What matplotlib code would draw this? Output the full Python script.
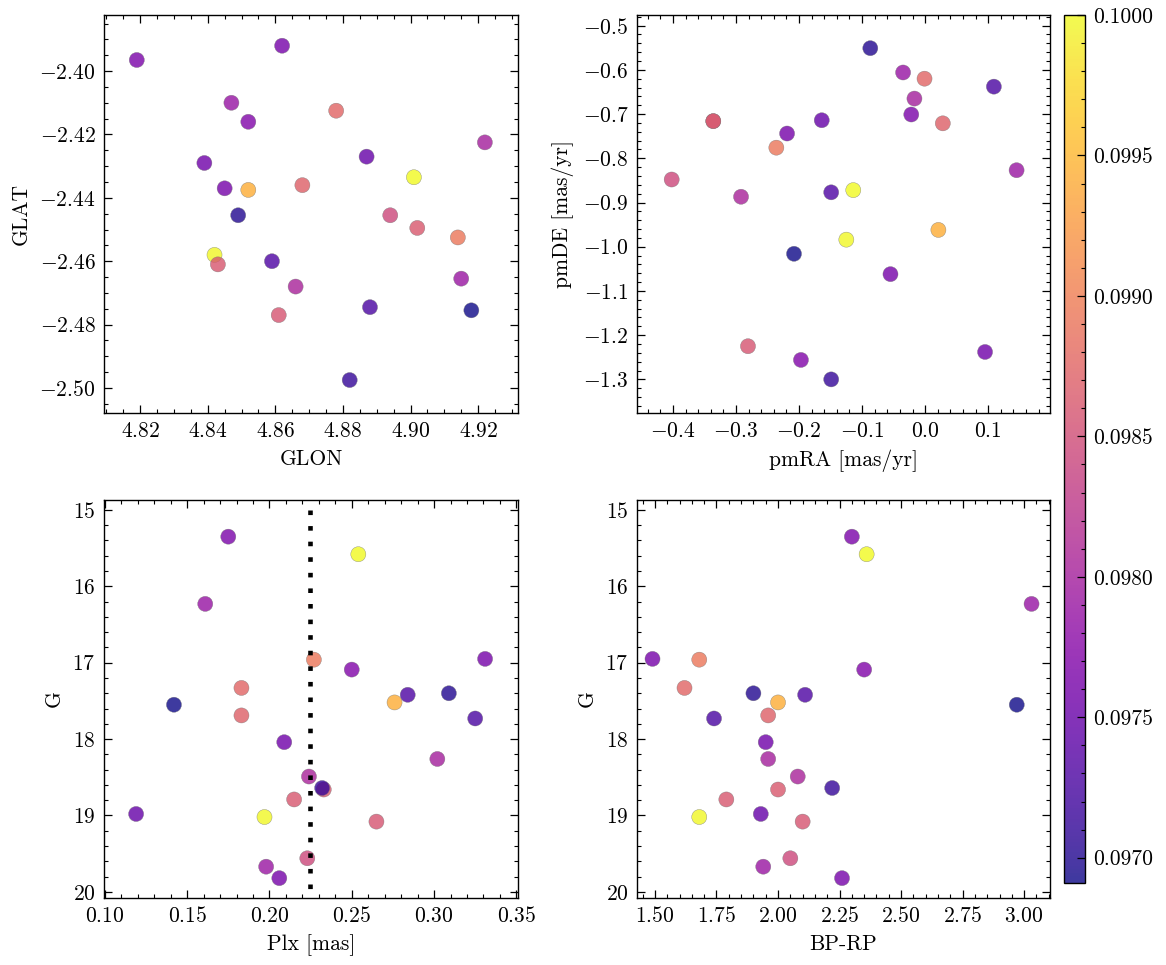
import numpy as np
import matplotlib
matplotlib.use("Agg")
import matplotlib.pyplot as plt
from matplotlib.ticker import AutoMinorLocator, MultipleLocator

plt.rcParams.update({
    "font.family": "serif",
    "font.serif": ["cmr10", "DejaVu Serif"],
    "mathtext.fontset": "cm",
    "axes.formatter.use_mathtext": True,
    "font.size": 15.5,
    "axes.linewidth": 1.0,
    "xtick.direction": "in",
    "ytick.direction": "in",
    "xtick.top": True,
    "ytick.right": True,
    "xtick.minor.visible": True,
    "ytick.minor.visible": True,
    "xtick.major.size": 6,
    "ytick.major.size": 6,
    "xtick.minor.size": 3,
    "ytick.minor.size": 3,
    "xtick.major.width": 0.9,
    "ytick.major.width": 0.9,
    "xtick.minor.width": 0.8,
    "ytick.minor.width": 0.8,
    "xtick.major.pad": 6,
    "ytick.major.pad": 6,
    "axes.labelpad": 6,
})

# ---- data (one entry per star) ----
value = [0.10000, 0.09998, 0.09942, 0.09892, 0.09875, 0.09870, 0.09862, 0.09860,
         0.09858, 0.09845, 0.09788, 0.09800, 0.09805, 0.09790, 0.09765, 0.09760,
         0.09770, 0.09755, 0.09748, 0.09762, 0.09730, 0.09728, 0.09700, 0.09691,
         0.09712]
glon = [4.901, 4.842, 4.852, 4.914, 4.878, 4.868, 4.902, 4.843, 4.861, 4.894,
        4.847, 4.922, 4.866, 4.915, 4.819, 4.862, 4.852, 4.839, 4.887, 4.845,
        4.859, 4.888, 4.849, 4.918, 4.882]
glat = [-2.4335, -2.4580, -2.4375, -2.4525, -2.4125, -2.4360, -2.4495, -2.4610,
        -2.4770, -2.4455, -2.4100, -2.4225, -2.4680, -2.4655, -2.3965, -2.3920,
        -2.4160, -2.4290, -2.4270, -2.4370, -2.4600, -2.4745, -2.4455, -2.4755,
        -2.4975]
pmra = [-0.114, -0.125, 0.021, -0.236, -0.001, 0.028, -0.336, -0.336, -0.281,
        -0.402, -0.035, -0.017, -0.292, 0.145, -0.022, -0.055, -0.197, 0.095,
        -0.164, -0.219, -0.149, 0.109, -0.087, -0.208, -0.149]
pmde = [-0.872, -0.984, -0.962, -0.776, -0.620, -0.721, -0.716, -0.716, -1.225,
        -0.848, -0.606, -0.665, -0.887, -0.827, -0.701, -1.062, -1.256, -1.238,
        -0.714, -0.744, -0.877, -0.638, -0.551, -1.016, -1.300]
plx = [0.254, 0.197, 0.276, 0.227, 0.183, 0.183, 0.233, 0.215, 0.265, 0.223,
       0.161, 0.302, 0.224, 0.198, 0.175, 0.331, 0.250, 0.209, 0.119, 0.206,
       0.284, 0.325, 0.309, 0.142, 0.232]
gmag = [15.58, 19.02, 17.52, 16.96, 17.33, 17.69, 18.66, 18.79, 19.08, 19.56,
        16.23, 18.26, 18.49, 19.67, 15.35, 16.95, 17.09, 18.04, 18.98, 19.82,
        17.42, 17.73, 17.40, 17.55, 18.64]
bprp = [2.36, 1.68, 2.00, 1.68, 1.62, 1.96, 2.00, 1.79, 2.10, 2.05,
        3.03, 1.96, 2.08, 1.94, 2.30, 1.49, 2.35, 1.95, 1.93, 2.26,
        2.11, 1.74, 1.90, 2.97, 2.22]
plx_mean = 0.2245

W, H = 1166, 965
fig = plt.figure(figsize=(W / 100, H / 100), dpi=100)

def box(l, t, r, b):
    return [l / W, 1 - b / H, (r - l) / W, (b - t) / H]

ax1 = fig.add_axes(box(104, 15, 518, 413))
ax2 = fig.add_axes(box(637, 15, 1050, 413))
ax3 = fig.add_axes(box(104, 500, 518, 898))
ax4 = fig.add_axes(box(637, 500, 1050, 898))
cax = fig.add_axes(box(1064, 15, 1085, 883))

kw = dict(c=value, cmap="plasma", vmin=min(value), vmax=max(value), s=118,
          alpha=0.8, edgecolors="0.45", linewidths=0.3, zorder=2)

sc = ax1.scatter(glon, glat, **kw)
ax1.set_xlabel("GLON")
ax1.set_ylabel("GLAT")
ax1.set_xlim(4.8093, 4.9318)
ax1.set_ylim(-2.5079, -2.3823)

ax2.scatter(pmra, pmde, **kw)
ax2.set_xlabel("pmRA [mas/yr]")
ax2.set_ylabel("pmDE [mas/yr]")
ax2.set_xlim(-0.457, 0.198)
ax2.set_ylim(-1.376, -0.476)

ax3.scatter(plx, gmag, **kw)
ax3.vlines(plx_mean, 15.0, 20.2, colors="black", linewidth=3.3,
           linestyles=(0, (1, 2.4)), zorder=3)
ax3.set_xlabel("Plx [mas]")
ax3.set_ylabel("G")
ax3.set_xlim(0.0995, 0.351)
ax3.set_ylim(20.08, 14.87)

ax4.scatter(bprp, gmag, **kw)
ax4.set_xlabel("BP-RP")
ax4.set_ylabel("G")
ax4.set_xlim(1.427, 3.105)
ax4.set_ylim(20.08, 14.87)

steps = {ax1: (0.02, 0.02), ax2: (0.1, 0.1), ax3: (0.05, 1), ax4: (0.25, 1)}
for ax, (sx, sy) in steps.items():
    ax.xaxis.set_major_locator(MultipleLocator(sx))
    ax.yaxis.set_major_locator(MultipleLocator(sy))
    ax.xaxis.set_minor_locator(AutoMinorLocator())
    ax.yaxis.set_minor_locator(AutoMinorLocator())

cb = fig.colorbar(sc, cax=cax)
cb.set_ticks([0.0970, 0.0975, 0.0980, 0.0985, 0.0990, 0.0995, 0.1000])
cb.ax.set_yticklabels(["0.0970", "0.0975", "0.0980", "0.0985", "0.0990", "0.0995", "0.1000"])
cb.ax.yaxis.set_minor_locator(AutoMinorLocator(5))
cb.ax.tick_params(which="both", direction="in", left=False, right=True)
cb.outline.set_linewidth(1.0)

fig.savefig("out.png", dpi=100)
